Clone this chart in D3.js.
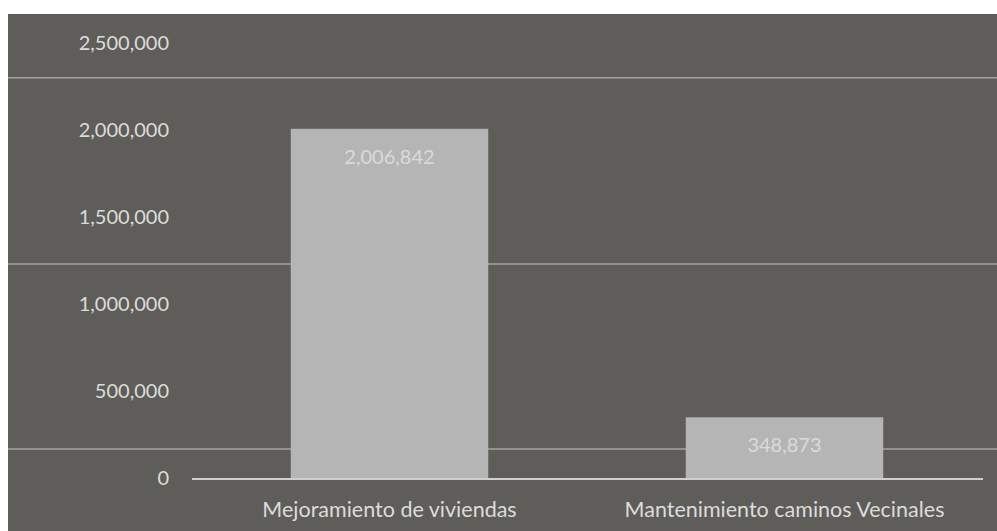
<!DOCTYPE html>
<html>
<head>
<meta charset="utf-8">
<script src="https://cdn.jsdelivr.net/npm/d3@7"></script>
<style>
  body { margin: 0; background: #ffffff; }
  svg { display: block; }
  text { font-family: Lato, "Open Sans", sans-serif; }
</style>
</head>
<body>
<script>
// data
var categories = ['Mejoramiento de viviendas', 'Mantenimiento caminos Vecinales'];
var values = [2006842, 348873];
var tickValues = [0, 500000, 1000000, 1500000, 2000000, 2500000];
// light horizontal lines crossing the scan (not on the tick values)
var gridValues = [2300000, 1230000, 166000];

var width = 997,
    height = 531;

var svg = d3.select('body')
  .append('svg')
  .attr('width', width)
  .attr('height', height);

// chart area background
svg.append('rect')
  .attr('x', 8)
  .attr('y', 14)
  .attr('width', width - 8)
  .attr('height', height - 14)
  .attr('fill', '#5f5d5a');

var y = d3.scaleLinear()
  .domain([0, 2500000])
  .range([478, 43]);

var x = d3.scaleBand()
  .domain(categories)
  .range([192, 982])
  .padding(0);

var fmt = d3.format(',');

// grid lines
svg.selectAll('.grid')
  .data(gridValues)
  .enter().append('line')
  .attr('class', 'grid')
  .attr('x1', 8)
  .attr('x2', width)
  .attr('y1', function(d) { return y(d); })
  .attr('y2', function(d) { return y(d); })
  .attr('stroke', '#a3a49f')
  .attr('stroke-width', 1.5);

// y axis labels
var yAxis = d3.axisLeft(y)
  .tickValues(tickValues)
  .tickFormat(fmt)
  .tickSize(0)
  .tickPadding(0);

var gy = svg.append('g')
  .attr('transform', 'translate(169,0)')
  .call(yAxis);
gy.select('.domain').remove();
gy.selectAll('text')
  .attr('fill', '#dcdcda')
  .style('font-size', '20px')
  .style('font-family', 'Lato, sans-serif');

// bars
svg.selectAll('.bar')
  .data(values)
  .enter().append('rect')
  .attr('class', 'bar')
  .attr('x', function(d, i) { return x(categories[i]) + x.bandwidth() * 0.25; })
  .attr('width', x.bandwidth() * 0.5)
  .attr('y', function(d) { return y(d); })
  .attr('height', function(d) { return y(0) - y(d); })
  .attr('fill', '#b4b5b4');

// value labels
svg.selectAll('.vlabel')
  .data(values)
  .enter().append('text')
  .attr('class', 'vlabel')
  .attr('x', function(d, i) { return x(categories[i]) + x.bandwidth() / 2; })
  .attr('y', function(d) { return y(d) + 35; })
  .attr('text-anchor', 'middle')
  .attr('fill', '#d9dcdd')
  .style('font-size', '20px')
  .text(function(d) { return fmt(d); });

// baseline
svg.append('line')
  .attr('x1', 192)
  .attr('x2', 983)
  .attr('y1', y(0) + 1)
  .attr('y2', y(0) + 1)
  .attr('stroke', '#cfcfcc')
  .attr('stroke-width', 2);

// x axis labels
var xAxis = d3.axisBottom(x)
  .tickSize(0)
  .tickPadding(0);

var gx = svg.append('g')
  .attr('transform', 'translate(0,' + (y(0) + 20) + ')')
  .call(xAxis);
gx.select('.domain').remove();
gx.selectAll('text')
  .attr('dy', '0.9em')
  .attr('fill', '#dcdcda')
  .style('font-size', '21.5px')
  .style('font-family', 'Lato, sans-serif');
</script>
</body>
</html>
